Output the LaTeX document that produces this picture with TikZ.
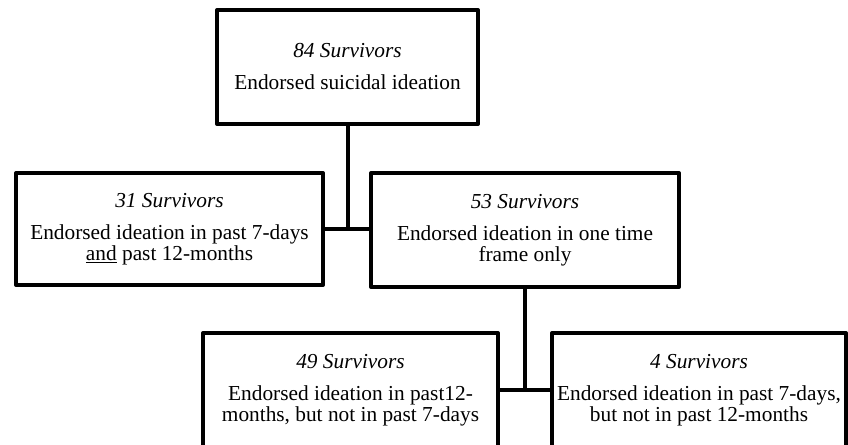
\documentclass[tikz,border=0pt]{standalone}
\usepackage{fontspec}
\setmainfont{Liberation Serif}
\usepackage{tikz}

\tikzset{
  survbox/.style={draw, line width=3pt, line join=round, align=center, inner sep=0pt,
    font=\fontsize{16}{15.5}\selectfont},
  link/.style={line width=3pt, line join=round}
}

\begin{document}
\begin{tikzpicture}[x=0.75pt,y=0.75pt,yscale=-1,xscale=1]
\clip (0,0) rectangle (848,444); %picture is 848 wide, 444 high

%Shape: Rectangle [top]
\node [survbox, minimum width=195.75pt, minimum height=85.5pt] (b84) at (347.5,67)
  {\textit{84 Survivors}\\[8.5pt]Endorsed suicidal ideation};
%Shape: Rectangle [left]
\node [survbox, minimum width=230.25pt, minimum height=84pt] (b31) at (169.5,229)
  {\textit{31 Survivors}\\[8.5pt]Endorsed ideation in past 7-days\\\underline{and} past 12-months};
%Shape: Rectangle [right]
\node [survbox, minimum width=231pt, minimum height=85.5pt] (b53) at (525,230)
  {\textit{53 Survivors}\\[8.5pt]Endorsed ideation in one time\\frame only};
%Shape: Rectangle [bottom left]
\node [survbox, minimum width=221.25pt, minimum height=85.5pt] (b49) at (350.5,390)
  {\textit{49 Survivors}\\[8.5pt]Endorsed ideation in past12-\\months, but not in past 7-days};
%Shape: Rectangle [bottom right]
\node [survbox, minimum width=220.5pt, minimum height=85.5pt] (b4) at (699,390)
  {\textit{4 Survivors}\\[8.5pt]Endorsed ideation in past 7-days,\\but not in past 12-months};

%Straight Lines
\draw [link] (b84.south) -- (b84.south |- b31.east);
\draw [link] (b31.east) -- (b53.west |- b31.east);
%Straight Lines
\draw [link] (b53.south) -- (b53.south |- b49.east);
\draw [link] (b49.east) -- (b4.west |- b49.east);

\end{tikzpicture}
\end{document}
